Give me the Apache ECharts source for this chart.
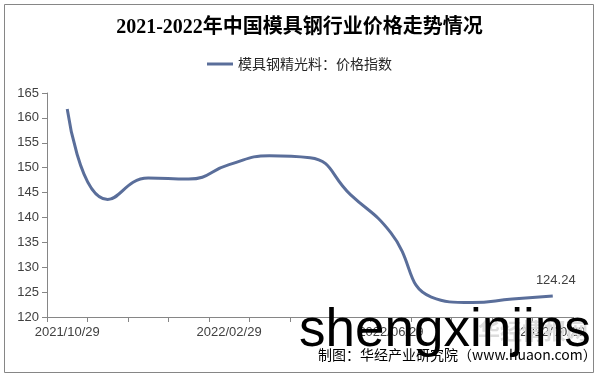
<!DOCTYPE html>
<html>
<head>
<meta charset="utf-8">
<script src="https://cdn.jsdelivr.net/npm/echarts@6/dist/echarts.min.js"></script>
<style>
html,body{margin:0;padding:0;background:#fff;}
#chart{width:599px;height:379px;}
</style>
</head>
<body>
<div id="chart"></div>
<script>
const titleText = '2021-2022年中国模具钢行业价格走势情况';
const seriesName = '模具钢精光料：价格指数';
const categories = ['2021/10/29','2021/11/29','2021/12/29','2022/01/29','2022/02/29','2022/03/29','2022/04/29','2022/05/29','2022/06/29','2022/07/29','2022/08/29','2022/09/29','2022/10/29'];
const values = [161.8, 143.6, 147.9, 147.7, 150.6, 152.4, 152.0, 144.6, 136.9, 124.0, 122.9, 123.6, 124.24];
const yMin = 120, yMax = 165, yStep = 5;
const sourceText = '制图：华经产业研究院（www.huaon.com）';
const watermarkText = 'shengxinjins';
const logoText = '华经情报网';

const lineColor = '#5a6e9a';
const chart = echarts.init(document.getElementById('chart'), null, {renderer:'canvas'});
const data = values.map((v, i) => i === values.length - 1
  ? {value: v, label: {show: true, position: 'top', distance: 9, offset: [3, 0], formatter: '{c}', color: '#404040', fontSize: 13, fontFamily: 'Liberation Sans, Arial, sans-serif'}}
  : v);

chart.setOption({
  animation: false,
  backgroundColor: '#fff',
  title: {
    text: titleText,
    left: 'center',
    top: 13,
    textStyle: {fontSize: 20, fontWeight: 'bold', color: '#000', fontFamily: '"Liberation Serif", "Noto Sans CJK SC", serif'}
  },
  legend: {
    top: 52,
    left: 'center',
    icon: 'rect',
    itemWidth: 26,
    itemHeight: 3,
    itemGap: 4,
    textStyle: {fontSize: 14, color: '#262626', fontFamily: '"Noto Sans CJK SC", sans-serif'},
    data: [seriesName]
  },
  grid: {left: 47, right: 26, top: 93, bottom: 62, containLabel: false},
  xAxis: {
    type: 'category',
    data: categories,
    boundaryGap: true,
    axisLine: {lineStyle: {color: '#868686', width: 1}},
    axisTick: {show: true, interval: 0, length: 5, lineStyle: {color: '#868686'}},
    axisLabel: {interval: 3, color: '#404040', fontSize: 13, margin: 9, fontFamily: 'Liberation Sans, Arial, sans-serif'},
    splitLine: {show: false}
  },
  yAxis: {
    type: 'value',
    min: yMin, max: yMax, interval: yStep,
    axisLine: {show: true, lineStyle: {color: '#868686', width: 1}},
    axisTick: {show: true, length: 5, lineStyle: {color: '#868686'}},
    axisLabel: {color: '#404040', fontSize: 13, margin: 8, fontFamily: 'Liberation Sans, Arial, sans-serif'},
    splitLine: {show: false}
  },
  series: [{
    name: seriesName,
    type: 'line',
    data: data,
    smooth: 0.5,
    symbol: 'circle',
    symbolSize: 0,
    showSymbol: true,
    lineStyle: {color: lineColor, width: 3},
    itemStyle: {color: lineColor}
  }],
  graphic: [
    {type: 'rect', shape: {x: 4.5, y: 4.5, width: 589, height: 368}, style: {fill: 'none', stroke: '#868686', lineWidth: 1}, z: 0, silent: true},
    {type: 'text', left: 478, top: 320, style: {text: logoText, fill: '#dcdcdc', font: 'bold 22px "Noto Sans CJK SC", sans-serif'}, z: 50},
    {type: 'text', left: 318, top: 348, style: {text: sourceText, fill: '#000', font: '14px "Noto Sans CJK SC", sans-serif'}, z: 60},
    {type: 'text', left: 299, top: 305, style: {text: watermarkText, fill: '#000', font: '53px "Liberation Sans", Arial, sans-serif'}, z: 70}
  ]
});
</script>
</body>
</html>
